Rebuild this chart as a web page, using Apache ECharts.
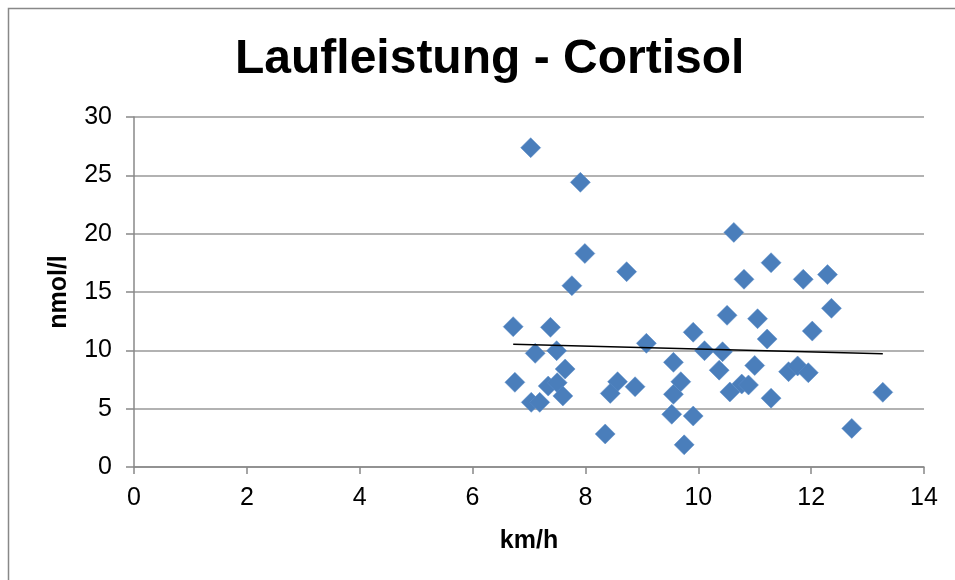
<!DOCTYPE html>
<html>
<head>
<meta charset="utf-8">
<script src="https://cdn.jsdelivr.net/npm/echarts@6/dist/echarts.min.js"></script>
<style>
  html, body { margin: 0; padding: 0; background: #fff; }
  #main { width: 955px; height: 580px; }
</style>
</head>
<body>
<div id="main"></div>
<script>
// Laufleistung (km/h) gegen Cortisol (nmol/l)
var speedKmh = [
  7.03, 7.91, 7.99, 7.76, 6.72, 7.38, 7.11, 7.49, 7.64, 6.75, 7.34, 7.50, 7.60, 7.04, 7.19,
  8.73, 9.08, 8.57, 8.44, 8.88, 8.35,
  9.56, 9.69, 9.56, 9.53, 9.91, 9.75, 9.91,
  10.63, 11.29, 10.81, 10.51, 11.05, 11.22, 10.11, 10.43, 10.37, 11.00, 10.56, 10.77, 10.89, 11.29,
  11.86, 12.29, 12.36, 12.02, 11.60, 11.76, 11.95, 13.27, 12.72
];
var cortisolNmol = [
  27.37, 24.4, 18.3, 15.54, 12.03, 11.97, 9.74, 9.97, 8.4, 7.26, 6.94, 7.23, 6.09, 5.54, 5.54,
  16.74, 10.6, 7.31, 6.31, 6.88, 2.83,
  8.97, 7.31, 6.23, 4.52, 4.37, 1.9, 11.55,
  20.11, 17.51, 16.09, 13.0, 12.71, 10.97, 9.97, 9.88, 8.3, 8.7, 6.43, 7.11, 7.03, 5.9,
  16.09, 16.49, 13.6, 11.65, 8.17, 8.66, 8.08, 6.4, 3.31
];
var xTicks = [0, 2, 4, 6, 8, 10, 12, 14];
var yTicks = [0, 5, 10, 15, 20, 25, 30];

var points = speedKmh.map(function (x, i) { return [x, cortisolNmol[i]]; });

// lineare Trendlinie (kleinste Quadrate)
var n = speedKmh.length, sx = 0, sy = 0, sxx = 0, sxy = 0;
for (var i = 0; i < n; i++) {
  sx += speedKmh[i]; sy += cortisolNmol[i];
  sxx += speedKmh[i] * speedKmh[i]; sxy += speedKmh[i] * cortisolNmol[i];
}
var slope = (n * sxy - sx * sy) / (n * sxx - sx * sx);
var icept = (sy - slope * sx) / n;
var xMin = Math.min.apply(null, speedKmh), xMax = Math.max.apply(null, speedKmh);
var trend = [[xMin, icept + slope * xMin], [xMax, icept + slope * xMax]];

var font = '"Liberation Sans", Arial, sans-serif';
var chart = echarts.init(document.getElementById('main'));
chart.setOption({
  animation: false,
  title: {
    text: 'Laufleistung - Cortisol',
    left: 230,
    top: 31,
    textStyle: { fontFamily: font, fontSize: 48, fontWeight: 'bold', color: '#000' }
  },
  graphic: [{
    type: 'rect',
    shape: { x: 8.5, y: 8.5, width: 1200, height: 1200 },
    style: { fill: 'none', stroke: '#888', lineWidth: 1.5 },
    silent: true
  }],
  grid: { left: 134, right: 31, top: 117, bottom: 113 },
  xAxis: {
    type: 'value',
    min: xTicks[0],
    max: xTicks[xTicks.length - 1],
    interval: xTicks[1] - xTicks[0],
    name: 'km/h',
    nameLocation: 'middle',
    nameGap: 62,
    nameTextStyle: { fontFamily: font, fontSize: 25, fontWeight: 'bold', color: '#000' },
    axisLine: { show: true, lineStyle: { color: '#888', width: 1.5 } },
    axisTick: { show: true, length: 7, lineStyle: { color: '#888', width: 1.5 } },
    axisLabel: { margin: 19, fontFamily: font, fontSize: 25, color: '#000' },
    splitLine: { show: false }
  },
  yAxis: {
    type: 'value',
    min: yTicks[0],
    max: yTicks[yTicks.length - 1],
    interval: yTicks[1] - yTicks[0],
    name: 'nmol/l',
    nameLocation: 'middle',
    nameRotate: 90,
    nameGap: 62,
    nameTextStyle: { fontFamily: font, fontSize: 25, fontWeight: 'bold', color: '#000' },
    axisLine: { show: true, lineStyle: { color: '#888', width: 1.5 } },
    axisTick: { show: true, length: 8, lineStyle: { color: '#888', width: 1.5 } },
    axisLabel: { margin: 22, fontFamily: font, fontSize: 25, color: '#000' },
    splitLine: { show: true, lineStyle: { color: '#999', width: 1.5 } }
  },
  series: [
    {
      type: 'scatter',
      data: points,
      symbol: 'diamond',
      symbolSize: 20,
      itemStyle: { color: '#4a7ebb', opacity: 1, borderColor: '#5b8dc8', borderWidth: 0.5 }
    },
    {
      type: 'line',
      data: trend,
      symbol: 'none',
      lineStyle: { color: '#000', width: 1.5 },
      z: 3
    }
  ]
});
</script>
</body>
</html>
